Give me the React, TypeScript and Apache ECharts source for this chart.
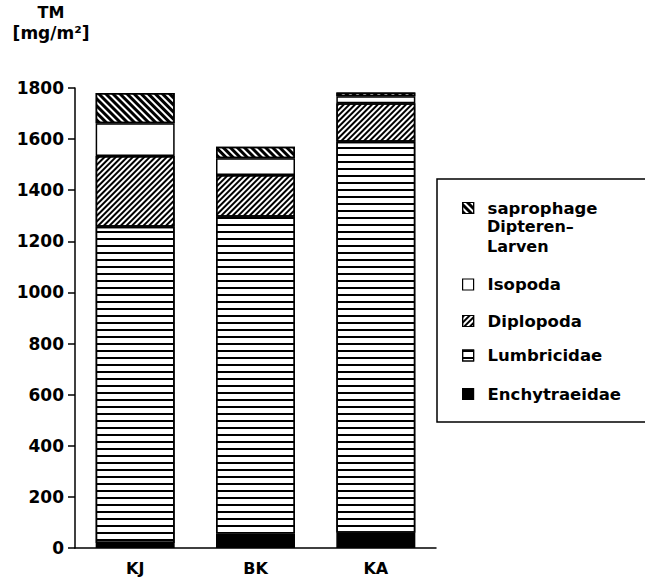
import React, { useEffect, useRef } from "react";
import * as echarts from "echarts";

const categories = ["KJ", "BK", "KA"];
const enchytraeidae = [20, 57, 60];
const lumbricidae = [1237, 1239, 1530];
const diplopoda = [277, 164, 150];
const isopoda = [128, 65, 28];
const saprophage = [118, 45, 14];
const yTicks = { min: 0, max: 1800, interval: 200 };

const FONT = "DejaVu Sans";

export default function App() {
  const ref = useRef<HTMLDivElement>(null);
  useEffect(() => {
    if (!ref.current) return;
    const chart = echarts.init(ref.current, null, { renderer: "svg" });
    const border = { borderColor: "#000", borderWidth: 1.5 };
    const stripe = (dashY: number[], rotation: number) => ({
      symbol: "rect",
      symbolSize: 1,
      symbolKeepAspect: false,
      color: "#000",
      dashArrayX: [10, 0],
      dashArrayY: dashY,
      rotation,
    });
    const names = ["saprophage Dipteren-Larven", "Isopoda", "Diplopoda", "Lumbricidae", "Enchytraeidae"];
    const legendCenters = [205, 281.5, 318, 352.5, 391];
    const legends = names.map((n, i) => ({
      data: [n],
      left: 462,
      top: legendCenters[i] - 5.5,
      padding: 0,
      itemWidth: 11,
      itemHeight: 11,
      icon: "rect",
      itemStyle: { borderColor: "#000", borderWidth: 1.2 },
      formatter: (name: string) => (name.startsWith("saprophage") ? "saprophage" : name),
      textStyle: { fontFamily: FONT, fontWeight: "bold", fontSize: 16.5, color: "#000", padding: [0, 0, 0, 9] },
      selectedMode: false,
    }));
    const legendLine = (text: string, y: number) => ({
      type: "text", x: 487, y,
      style: { text, fontFamily: FONT, fontWeight: "bold", fontSize: 16, fill: "#000", textVerticalAlign: "middle" },
    });
    chart.setOption({
      animation: false,
      backgroundColor: "#fff",
      grid: { left: 75, right: 209, top: 88, bottom: 30 },
      legend: legends,
      xAxis: {
        type: "category",
        data: categories,
        axisLine: { lineStyle: { color: "#000", width: 1.5 } },
        axisTick: { show: false },
        axisLabel: { color: "#000", fontFamily: FONT, fontWeight: "bold", fontSize: 16, margin: 12 },
      },
      yAxis: {
        type: "value",
        min: yTicks.min,
        max: yTicks.max,
        interval: yTicks.interval,
        splitLine: { show: false },
        axisLine: { show: true, lineStyle: { color: "#000", width: 1.5 } },
        axisTick: { show: true, length: 7, lineStyle: { color: "#000", width: 1.5 } },
        axisLabel: {
          color: "#000", fontFamily: FONT, fontWeight: "bold", fontSize: 17, margin: 11,
          formatter: (v: number) => String(v),
        },
      },
      graphic: [
        { type: "text", x: 51, y: 12, style: { text: "TM", fontFamily: FONT, fontWeight: "bold", fontSize: 16, fill: "#000", textAlign: "center", textVerticalAlign: "middle" } },
        { type: "text", x: 51, y: 33, style: { text: "[mg/m²]", fontFamily: FONT, fontWeight: "bold", fontSize: 17, fill: "#000", textAlign: "center", textVerticalAlign: "middle" } },
        { type: "rect", shape: { x: 437, y: 179, width: 230, height: 243 }, style: { fill: "none", stroke: "#000", lineWidth: 1.5 } },
        legendLine("Dipteren–", 226),
        legendLine("Larven", 246),
      ],
      series: [
        { name: "Enchytraeidae", type: "bar", stack: "t", barWidth: 79, data: enchytraeidae, itemStyle: { color: "#000", ...border } },
        { name: "Lumbricidae", type: "bar", stack: "t", data: lumbricidae, itemStyle: { color: "#fff", ...border, decal: stripe([2, 5], 0) } },
        { name: "Diplopoda", type: "bar", stack: "t", data: diplopoda, itemStyle: { color: "#fff", ...border, decal: stripe([2, 2], -Math.PI / 4) } },
        { name: "Isopoda", type: "bar", stack: "t", data: isopoda, itemStyle: { color: "#fff", ...border } },
        { name: "saprophage Dipteren-Larven", type: "bar", stack: "t", data: saprophage, itemStyle: { color: "#fff", ...border, decal: stripe([3, 2], Math.PI / 4) } },
      ],
    });
    return () => chart.dispose();
  }, []);
  return <div ref={ref} style={{ width: 645, height: 578, position: "absolute", left: 0, top: 0 }} />;
}
